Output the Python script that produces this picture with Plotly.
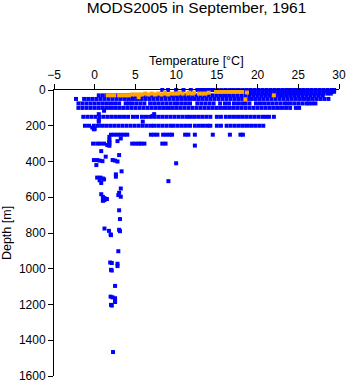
import plotly.graph_objects as go

# ---------------- data (temperature in deg C per depth level in m) ----------------
t_d0 = [8.3, 9.0, 10.0, 10.9, 11.8, 12.6, 13.0, 13.4, 13.8, 14.2, 14.6, 15.1, 15.6, 16.1,
        16.6, 17.1, 17.6, 18.1, 18.6, 19.1, 19.6, 20.1, 20.6, 21.1, 21.6, 22.1, 22.6, 23.1,
        23.6, 24.1, 24.6, 25.1, 25.6, 26.1, 26.6, 27.1, 27.6, 28.1, 28.6, 29.1, 29.4]
t_d10 = [18.6, 19.1, 19.6, 20.1, 20.6, 21.1, 21.6, 22.1, 22.6, 23.1, 23.6, 24.1, 24.6, 25.1,
         25.6, 26.1, 26.6, 27.1, 27.6, 28.1, 28.6, 29.1, 29.4]
t_d20 = [19.1, 19.6, 20.1, 20.6, 21.1, 21.6, 22.1, 22.6, 23.1, 23.6, 24.1, 24.6, 25.1, 25.6,
         26.1, 26.6, 27.1, 27.6, 28.1, 28.6, 29.0]
t_d30 = [0.5, 1.0, 1.5, 2.0, 2.5, 3.0, 3.5, 4.0, 4.5, 5.0, 5.5, 6.0, 6.5, 7.0, 7.5, 8.0, 8.5,
         9.0, 9.5, 10.0, 10.5, 11.0, 11.5, 12.0, 12.5, 13.0, 13.5, 14.0, 14.5, 15.0, 15.5,
         16.0, 16.5, 17.0, 17.5, 18.0, 18.5, 19.0, 19.5, 20.0, 20.5, 21.0, 21.5, 22.0, 22.5,
         23.0, 23.5, 24.0, 24.5, 25.0, 25.5, 26.0, 26.5, 27.0, 27.5, 28.0]
t_d50 = [-2.3, -1.3, -0.8, -0.3, 0.2, 0.7, 1.2, 1.7, 2.2, 2.7, 3.2, 3.7, 4.2, 4.7, 5.2, 5.7,
         6.2, 6.7, 7.2, 7.7, 8.2, 8.7, 9.2, 9.7, 10.2, 10.7, 11.2, 11.7, 12.2, 12.7, 13.2,
         13.7, 14.2, 14.7, 15.2, 15.7, 16.2, 16.7, 17.2, 17.7, 18.2, 18.7, 19.2, 19.7, 20.2,
         20.7, 21.2, 21.7, 22.2, 22.7, 23.2, 23.7, 24.2, 24.7, 25.2, 25.7, 26.2, 26.7, 27.2,
         27.7, 28.2, 28.7]
t_d75 = [-2.0, -1.5, -1.0, -0.5, 0.0, 0.5, 1.0, 1.5, 2.0, 2.5, 3.0, 3.8, 4.2, 4.6, 5.1, 5.6,
         6.1, 6.8, 7.3, 7.8, 8.3, 8.8, 9.3, 9.8, 10.2, 10.7, 11.2, 11.7, 12.6, 13.1, 13.6,
         14.1, 14.6, 15.4, 16.0, 16.5, 17.1, 17.6, 18.1, 18.5, 19.0, 19.8, 20.3, 20.8, 21.3,
         21.8, 22.3, 22.8, 23.3, 23.6, 24.0, 24.5, 25.0, 25.5, 26.0, 26.3, 26.7, 27.1]
t_d100 = [-2.0, -1.5, -1.0, -0.5, 0.0, 0.5, 1.0, 1.5, 2.0, 2.5, 3.0, 3.5, 4.0, 4.5, 5.0, 5.5,
          6.0, 6.5, 7.0, 7.5, 8.0, 8.5, 9.0, 9.5, 10.0, 10.5, 11.0, 11.5, 12.0, 12.5, 13.0,
          13.5, 14.0, 14.5, 15.0, 15.5, 16.0, 16.5, 17.0, 17.5, 18.0, 18.5, 19.0, 19.5, 20.0,
          20.5, 21.0, 21.5, 22.0, 22.5, 23.0, 23.5, 24.0, 24.7, 25.1]
t_d150 = [-1.4, -0.9, -0.4, 0.1, 0.6, 1.1, 1.6, 2.1, 2.6, 3.1, 3.6, 4.1, 4.7, 5.2, 5.8, 6.3,
          6.8, 7.3, 7.8, 8.3, 8.8, 9.3, 9.8, 10.3, 10.8, 11.3, 11.7, 12.2, 12.7, 13.2, 13.7,
          14.2, 15.0, 15.5, 16.1, 16.6, 17.1, 17.6, 18.1, 18.6, 19.1, 19.6, 20.1, 20.6, 21.0,
          21.4, 22.0]
t_d200 = [-1.2, -0.7, -0.1, 0.4, 0.9, 1.4, 1.9, 2.4, 2.9, 3.4, 3.9, 4.4, 4.9, 5.4, 5.9, 6.4,
          6.9, 7.3, 7.8, 8.3, 8.8, 9.3, 9.7, 10.2, 10.7, 11.2, 11.7, 12.3, 12.8, 13.3, 13.8,
          14.2, 15.0, 15.5, 16.2, 16.7, 17.2, 17.7, 18.2, 18.7, 19.2, 19.7, 20.2, 20.7]
t_d250 = [2.0, 2.4, 2.8, 3.2, 3.6, 4.0, 6.9, 7.3, 7.7, 8.4, 8.8, 9.2, 9.5, 11.1, 11.5, 12.3,
          14.5, 16.6, 17.9, 18.2]
t_d300 = [-0.2, 0.3, 0.7, 1.15, 1.8, 4.6, 5.0, 5.4, 5.7, 6.1, 8.3, 8.7]

# scattered blue observations (temperature, depth)
sc_temp = [1.15, 0.5, 7.3, 0.5, 5.9, 0.5, 7.1, -0.3, -0.1, 0.0,
           1.8, 3.2, 1.8, 2.8, 1.8, 12.3, 1.8, 1.55,
           0.8, 3.0, 1.35, -0.1, 0.3, 0.6, 0.95, 2.2, 2.5, 2.8,
           10.0, 0.2, 3.3, 2.6, 2.6, 0.3, 0.7, 1.0, 0.6, 1.15, 0.8, 9.05,
           3.2, 3.0, 2.9, 3.2, 0.8, 1.0, 1.2, 1.5, 1.2, 1.0,
           3.0, 3.1, 1.2, 1.75, 3.0, 3.1, 1.95, 2.0,
           2.9, 1.9, 2.1, 2.8, 2.8, 2.0, 2.1,
           2.5, 1.95, 2.2, 2.5, 2.5, 2.5, 2.0, 2.1, 2.25]
sc_depth = [116, 168, 135, 135, 177, 177, 145, 210, 220, 218,
            262, 271, 280, 286, 290, 311, 312, 308,
            342, 364, 373, 392, 392, 395, 398, 392, 395, 400,
            410, 420, 455, 472, 485, 490, 490, 495, 505, 500, 520, 510,
            551, 575, 588, 597, 583, 598, 605, 610, 616, 620,
            673, 722, 775, 788, 782, 790, 808, 812,
            902, 965, 968, 972, 985, 1006, 1010,
            1096, 1156, 1160, 1165, 1180, 1186, 1202, 1206, 1466]

# second (orange) set of observations
or_temp = [1.6, 2.0, 2.4, 3.0, 3.4, 3.8, 4.2,
           4.6, 5.0, 5.4, 5.8, 6.6, 7.4, 8.2, 9.0,
           6.2, 7.0, 7.8, 8.6, 9.4, 9.8, 10.2, 10.8, 11.4, 12.0, 12.8, 13.2, 13.6,
           11.6, 12.2, 14.0,
           14.9, 15.3, 15.7, 16.1, 16.5, 16.9, 17.3, 17.7, 18.1,
           15.0, 15.6, 16.4, 17.2, 18.0,
           5.4, 18.7, 22.0, 18.5, 10.4, 8.6]
or_depth = [30, 30, 30, 30, 30, 30, 30,
            25, 25, 25, 25, 25, 25, 25, 25,
            20, 20, 20, 20, 20, 20, 20, 20, 20, 20, 20, 20, 20,
            15, 15, 15,
            10, 10, 10, 10, 10, 10, 10, 10, 10,
            5, 5, 5, 5, 5,
            40, 14, 30, 52, 15, 14]

x_ticks = [-5, 0, 5, 10, 15, 20, 25, 30]
y_ticks = [0, 200, 400, 600, 800, 1000, 1200, 1400, 1600]

# ---------------- build ----------------
levels = [(0, t_d0), (10, t_d10), (20, t_d20), (30, t_d30), (50, t_d50), (75, t_d75),
          (100, t_d100), (150, t_d150), (200, t_d200), (250, t_d250), (300, t_d300)]
blue_t, blue_d = [], []
for d, ts in levels:
    blue_t += ts
    blue_d += [d] * len(ts)
blue_t += sc_temp
blue_d += sc_depth

fig = go.Figure()
fig.add_trace(go.Scatter(x=blue_t, y=blue_d, mode="markers", cliponaxis=False,
                         marker=dict(symbol="square", size=4, color="#0000FF",
                                     line=dict(width=0))))
fig.add_trace(go.Scatter(x=or_temp, y=or_depth, mode="markers", cliponaxis=False,
                         marker=dict(symbol="square", size=4, color="#FFA500",
                                     line=dict(width=0))))

font_family = "Liberation Sans, Arial, Helvetica, sans-serif"
fig.update_layout(
    width=348, height=384,
    margin=dict(l=54, r=9, t=90, b=8, pad=0),
    plot_bgcolor="white", paper_bgcolor="white",
    showlegend=False,
    font=dict(family=font_family, size=12, color="black"),
    title=dict(text="MODS2005 in September, 1961", x=0.5, xref="paper",
               xanchor="center", y=0.98, yanchor="middle",
               font=dict(size=15.5, color="black", family=font_family)),
    xaxis=dict(side="top", range=[-5, 30], tickvals=x_ticks, ticks="outside", ticklen=5,
               tickcolor="black", showline=True, linecolor="black", linewidth=1,
               showgrid=False, zeroline=False, automargin=False),
    yaxis=dict(range=[1600, 0], tickvals=y_ticks, ticks="outside", ticklen=5,
               tickcolor="black", showline=True, linecolor="black", linewidth=1,
               showgrid=False, zeroline=False, automargin=False,
               title=dict(text="Depth [m]", font=dict(size=12.5), standoff=4)),
    annotations=[dict(text="Temperature [°C]", xref="paper", yref="paper",
                      x=0.5, y=1 + 29 / 286, xanchor="center", yanchor="middle",
                      showarrow=False, font=dict(size=12.5))],
)

fig.write_html("out.html")
